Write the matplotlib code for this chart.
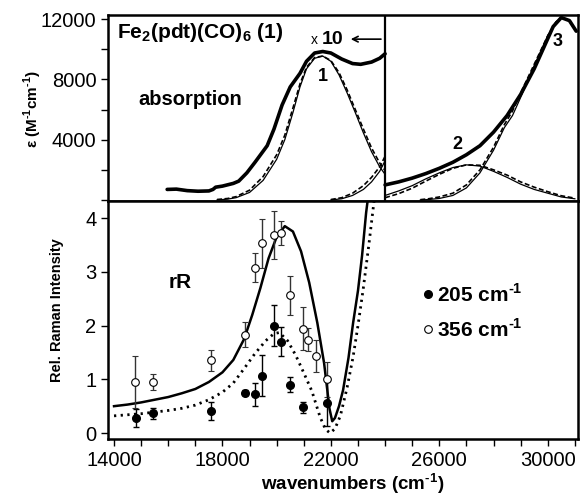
import matplotlib.pyplot as plt
from matplotlib.ticker import MultipleLocator

plt.rcParams['font.family'] = ['Liberation Sans', 'DejaVu Sans']
plt.rcParams['mathtext.fontset'] = 'custom'
plt.rcParams['mathtext.rm'] = 'Liberation Sans'
plt.rcParams['mathtext.bf'] = 'Liberation Sans:bold'

# ---- absorption panel (left part x10, right part true scale) ----
abs_wn = [15960, 16300, 16700, 17100, 17500, 17650, 17750, 18000, 18400, 18600, 18900,
          19200, 19650, 19900, 20200, 20500, 20860, 21100, 21400, 21700, 22000, 22400,
          22800, 23100, 23500, 23800, 24000]
abs_eps = [700, 720, 620, 580, 600, 700, 850, 920, 1100, 1250, 1800,
           2500, 3600, 4700, 6300, 7500, 8400, 9200, 9750, 9850, 9750, 9350,
           9050, 9000, 9150, 9400, 9700]
abs_wn_r = [24000, 24500, 25000, 25500, 26000, 26500, 27000, 27500, 28000, 28500, 29000,
            29500, 29900, 30200, 30500, 30800, 31050]
abs_eps_r = [1000, 1200, 1450, 1750, 2100, 2500, 3000, 3600, 4500, 5600, 7000,
             8700, 10300, 11500, 12100, 11900, 11200]

band1_wn = [17800, 18200, 18500, 19000, 19500, 20000, 20300, 20600, 20860, 21100, 21400,
            21700, 22000, 22300, 22600, 22900, 23200, 23500, 23800, 24000]
band1_eps = [0, 60, 150, 500, 1300, 2700, 4000, 5800, 7500, 8700, 9400,
             9550, 9200, 8300, 7100, 5800, 4450, 3200, 2200, 1700]
band1d_eps = [30, 100, 220, 650, 1550, 3000, 4300, 6100, 7700, 8800, 9450,
              9550, 9250, 8450, 7300, 6000, 4700, 3450, 2450, 1950]

band3l_wn = [22000, 22400, 22800, 23200, 23500, 23800, 24000]
band3l_eps = [0, 80, 300, 700, 1200, 1900, 2600]
band3ld_eps = [30, 150, 450, 950, 1500, 2200, 2900]

band2_wn = [24000, 24500, 25000, 25500, 26000, 26500, 27000, 27500, 28000, 28500, 29000,
            29500, 30000, 30500, 31000]
band2_eps = [300, 600, 950, 1400, 1800, 2150, 2330, 2250, 1900, 1500, 1050,
             700, 450, 200, 80]
band2d_eps = [150, 420, 780, 1250, 1700, 2100, 2330, 2300, 2000, 1650, 1200,
              850, 550, 280, 120]

band3_wn = [25300, 25600, 26000, 26500, 27000, 27500, 28000, 28400, 28700, 29000, 29500,
            30000, 30300, 30500, 30800, 31050]
band3_eps = [0, 30, 100, 300, 800, 1800, 3300, 4800, 5600, 6800, 8900,
             10900, 11800, 12100, 11900, 11200]
band3d_eps = [20, 80, 200, 450, 1000, 2000, 3500, 5000, 5900, 7100, 9000,
              10900, 11800, 12100, 11900, 11200]

# ---- resonance Raman panel ----
wn_356 = [14775, 15440, 17580, 18830, 19200, 19460, 19900, 20160, 20490, 20970, 21160, 21450, 21860]
int_356 = [0.95, 0.95, 1.35, 1.83, 3.08, 3.53, 3.68, 3.72, 2.56, 1.94, 1.74, 1.44, 1.00]
err_356 = [0.48, 0.15, 0.20, 0.23, 0.27, 0.46, 0.45, 0.22, 0.37, 0.40, 0.22, 0.30, 0.33]

wn_205 = [14800, 15440, 17580, 18830, 19200, 19460, 19900, 20160, 20490, 20970, 21860]
int_205 = [0.28, 0.37, 0.41, 0.75, 0.72, 1.07, 2.00, 1.70, 0.90, 0.48, 0.55]
err_205 = [0.17, 0.10, 0.16, 0.05, 0.22, 0.38, 0.38, 0.27, 0.14, 0.10, 0.42]

fit356_wn = [14000, 14500, 15000, 15500, 16000, 16500, 17000, 17500, 18000, 18400, 18800,
             19100, 19400, 19700, 20000, 20300, 20600, 20900, 21200, 21500, 21750, 21950,
             22050, 22150, 22300, 22450, 22650, 22820, 23000, 23150, 23300, 23400]
fit356 = [0.50, 0.53, 0.57, 0.62, 0.67, 0.74, 0.82, 0.95, 1.13, 1.36, 1.75,
          2.20, 2.70, 3.25, 3.65, 3.85, 3.75, 3.38, 2.80, 2.05, 1.30, 0.45,
          0.22, 0.28, 0.50, 0.80, 1.40, 2.05, 2.65, 3.30, 4.10, 4.50]

fit205_wn = [14000, 14500, 15000, 15500, 16000, 16500, 17000, 17500, 18000, 18400, 18800,
             19200, 19600, 19900, 20100, 20400, 20700, 21000, 21300, 21600, 21800, 21970,
             22150, 22350, 22600, 22820, 23000, 23190, 23400, 23600]
fit205 = [0.32, 0.34, 0.36, 0.39, 0.42, 0.46, 0.52, 0.62, 0.76, 0.93, 1.20,
          1.48, 1.72, 1.85, 1.87, 1.72, 1.45, 1.12, 0.78, 0.30, 0.07, 0.00,
          0.08, 0.32, 0.85, 1.42, 2.00, 2.67, 3.50, 4.35]

HY = '\u2010'  # plain hyphen in superscripts, as in the original

fig = plt.figure(figsize=(5.81, 4.96), dpi=100)
ax1 = fig.add_axes([0.186, 0.595, 0.809, 0.375])
ax2 = fig.add_axes([0.186, 0.115, 0.809, 0.480])

xlim = (13780, 31120)

# upper panel
ax1.plot(abs_wn, abs_eps, color='black', lw=2.6, solid_capstyle='round')
ax1.plot(abs_wn_r, abs_eps_r, color='black', lw=2.6, solid_capstyle='round')
ax1.plot(band1_wn, band1_eps, color='black', lw=0.9)
ax1.plot(band1_wn, band1d_eps, color='black', lw=1.2, ls=(0, (3, 1.5)))
ax1.plot(band3l_wn, band3l_eps, color='black', lw=0.9)
ax1.plot(band3l_wn, band3ld_eps, color='black', lw=1.2, ls=(0, (3, 1.5)))
ax1.plot(band2_wn, band2_eps, color='black', lw=0.9)
ax1.plot(band2_wn, band2d_eps, color='black', lw=1.2, ls=(0, (3, 1.5)))
ax1.plot(band3_wn, band3_eps, color='black', lw=0.9)
ax1.plot(band3_wn, band3d_eps, color='black', lw=1.2, ls=(0, (3, 1.5)))
ax1.axvline(24000, color='black', lw=1.6)

ax1.set_xlim(xlim)
ax1.set_ylim(-60, 12280)
ax1.set_xticks([])
ax1.set_yticks([0, 4000, 8000, 12000])
ax1.set_yticklabels(['', '4000', '8000', '12000'])
ax1.yaxis.set_minor_locator(MultipleLocator(2000))
ax1.tick_params(axis='y', which='both', direction='out', length=5, width=1, labelsize=14.5)

ax1.text(14110, 11130, r'Fe$_\mathbf{2}$(pdt)(CO)$_\mathbf{6}$ (1)', fontsize=15,
         fontweight='bold', va='center', ha='left')
ax1.text(16800, 6670, 'absorption', fontsize=14.5, fontweight='bold', ha='center', va='center')
ax1.text(21530, 10600, 'x', fontsize=10, ha='right', va='center')
ax1.text(21680, 10670, '10', fontsize=14, fontweight='bold', ha='left', va='center')
ax1.annotate('', xy=(22630, 10670), xytext=(23950, 10670),
             arrowprops=dict(arrowstyle='->', color='black', lw=1.2))
ax1.text(21710, 8200, '1', fontsize=13, fontweight='bold', ha='center', va='center')
ax1.text(26660, 3670, '2', fontsize=13, fontweight='bold', ha='center', va='center')
ax1.text(30350, 10530, '3', fontsize=13, fontweight='bold', ha='center', va='center')

# lower panel
ax2.plot(fit356_wn, fit356, color='black', lw=1.8)
ax2.plot(fit205_wn, fit205, color='black', lw=2.0, ls=(0, (0.8, 1.6)))
ax2.errorbar(wn_356, int_356, yerr=err_356, fmt='o', ms=5.5, mfc='white', mec='black',
             mew=0.8, ecolor='#333333', elinewidth=1, capsize=2.5, capthick=1)
ax2.errorbar(wn_205, int_205, yerr=err_205, fmt='o', ms=5.5, mfc='black', mec='black',
             ecolor='black', elinewidth=1, capsize=2.5, capthick=1)

ax2.set_xlim(xlim)
ax2.set_ylim(-0.11, 4.32)
ax2.set_xticks([14000, 18000, 22000, 26000, 30000])
ax2.set_xticklabels(['14000', '18000', '22000', '26000', '30000'])
ax2.xaxis.set_minor_locator(MultipleLocator(1000))
ax2.set_yticks([0, 1, 2, 3, 4])
ax2.tick_params(axis='both', which='both', direction='out', length=5, width=1, labelsize=14.5)

ax2.text(16440, 2.8, 'rR', fontsize=15, fontweight='bold', ha='center', va='center')
ax2.plot([25590], [2.58], 'o', ms=5.5, mfc='black', mec='black')
ax2.plot([25590], [1.93], 'o', ms=5.5, mfc='white', mec='black', mew=0.8)
ax2.text(25900, 2.58, r'205 cm$^{\mathbf{%s1}}$' % HY, fontsize=15, fontweight='bold', va='center')
ax2.text(25900, 1.93, r'356 cm$^{\mathbf{%s1}}$' % HY, fontsize=15, fontweight='bold', va='center')

for ax in (ax1, ax2):
    for s in ax.spines.values():
        s.set_linewidth(1.8)

fig.text(0.057, 0.78, r'ε (M$^{\mathbf{%s1}}$cm$^{\mathbf{%s1}}$)' % (HY, HY), rotation=90,
         fontsize=11, fontweight='bold', ha='center', va='center')
fig.text(0.098, 0.375, 'Rel. Raman Intensity', rotation=90, fontsize=10.5,
         fontweight='bold', ha='center', va='center')
fig.text(0.607, 0.026, r'wavenumbers (cm$^{\mathbf{%s1}}$)' % HY, fontsize=13.5,
         fontweight='bold', ha='center', va='center')

fig.savefig('out.png', dpi=100)
